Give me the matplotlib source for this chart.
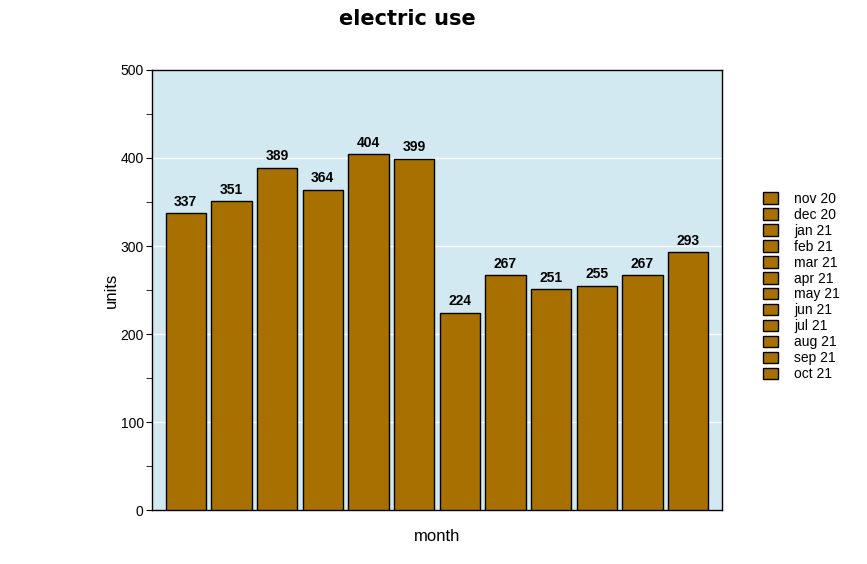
import matplotlib.pyplot as plt

months = ['nov 20', 'dec 20', 'jan 21', 'feb 21', 'mar 21', 'apr 21',
          'may 21', 'jun 21', 'jul 21', 'aug 21', 'sep 21', 'oct 21']
units = [337, 351, 389, 364, 404, 399, 224, 267, 251, 255, 267, 293]

bar_color = '#A87000'
bg_color = '#D3E9F1'

plt.rcParams['font.family'] = ['Liberation Sans', 'DejaVu Sans']

fig = plt.figure(figsize=(8.67, 5.64), dpi=100)
ax = fig.add_axes([0.1753, 0.0957, 0.6575, 0.7802])
ax.set_facecolor(bg_color)

for i, (m, v) in enumerate(zip(months, units)):
    ax.bar(i, v, width=0.88, color=bar_color, edgecolor='black',
           linewidth=1, label=m, zorder=3)
    ax.text(i, v + 5, str(v), ha='center', va='bottom',
            fontsize=10, fontweight='bold', zorder=4)

ax.set_xlim(-0.74, 11.74)
ax.set_ylim(0, 500)
ax.set_yticks([0, 100, 200, 300, 400, 500])
ax.set_yticks(range(50, 500, 100), minor=True)
ax.set_xticks([])
ax.grid(axis='y', color='white', linewidth=1, zorder=1)
ax.tick_params(axis='y', labelsize=10, length=4, direction='out', pad=2)
ax.tick_params(axis='y', which='minor', length=4)
for s in ax.spines.values():
    s.set_linewidth(1)

ax.set_ylabel('units', fontsize=12, labelpad=1)
ax.set_xlabel('month', fontsize=12, labelpad=14)

fig.text(0.47, 0.967, 'electric use', ha='center', va='center',
         fontsize=15, fontweight='heavy', family='DejaVu Sans')

fig.legend(loc='center left', bbox_to_anchor=(0.872, 0.492), frameon=False,
           fontsize=10, handlelength=1.05, handleheight=0.9,
           handletextpad=1.2, labelspacing=0.14, borderpad=0)

fig.savefig('out.png', dpi=100)
